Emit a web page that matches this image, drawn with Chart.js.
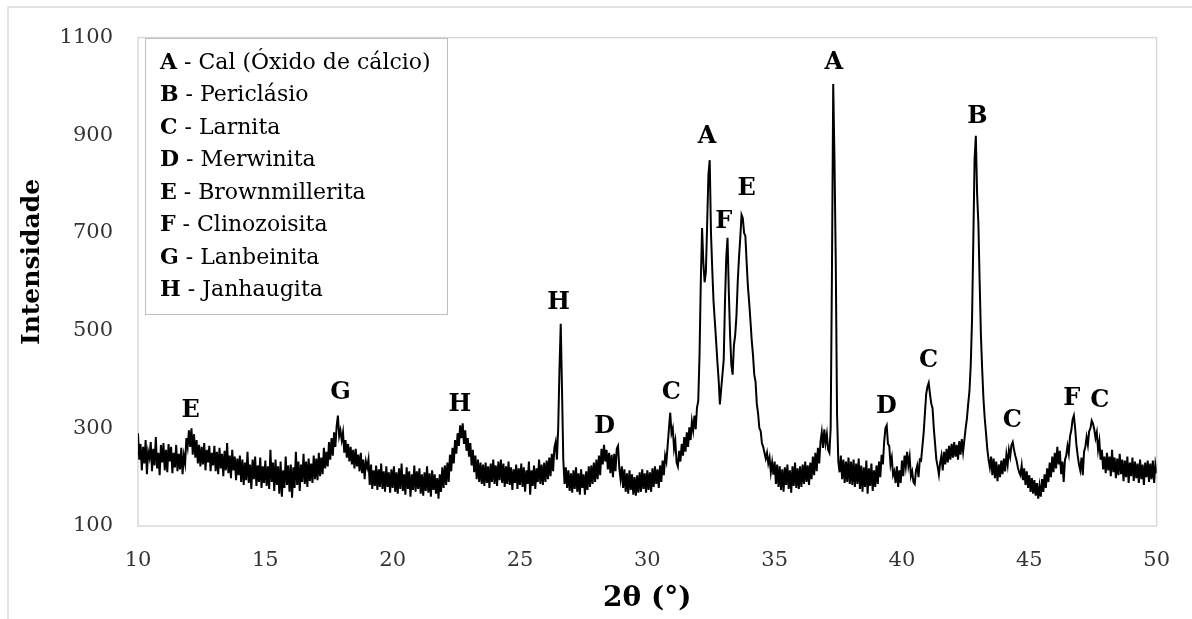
<!DOCTYPE html>
<html>
<head>
<meta charset="utf-8">
<script src="https://cdn.jsdelivr.net/npm/chart.js@4.4.1/dist/chart.umd.min.js"></script>
<style>
  html, body { margin: 0; padding: 0; background: #fff; }
</style>
</head>
<body>
<canvas id="xrdChart" width="1192" height="619"></canvas>
<script>
// 2theta grid: 10 to 50 degrees, one reading every 0.05 degree
const angleStart = 10;
const angleStep = 0.05;

// intensity, one row per degree (x.00 ... x.95)
const intensity = [
  290, 236, 268, 214, 262, 228, 276, 206, 252, 240, 272, 212, 258, 224, 282, 218, 250, 204, 266, 230, // 10
  270, 214, 256, 210, 268, 232, 262, 208, 250, 220, 266, 212, 248, 216, 260, 206, 244, 228, 280, 262, // 11
  296, 262, 300, 246, 288, 240, 276, 228, 266, 222, 262, 226, 270, 214, 256, 230, 264, 212, 250, 224, // 12
  264, 212, 252, 206, 260, 218, 248, 202, 254, 214, 270, 208, 244, 198, 256, 214, 242, 194, 238, 204, // 13
  244, 190, 236, 184, 230, 194, 252, 188, 226, 176, 236, 196, 242, 182, 224, 190, 240, 178, 222, 188, // 14
  234, 182, 222, 176, 256, 190, 230, 172, 236, 184, 222, 166, 232, 160, 214, 178, 242, 184, 224, 170, // 15
  226, 158, 220, 178, 252, 184, 232, 172, 226, 190, 248, 186, 232, 180, 238, 192, 228, 188, 244, 196, // 16
  238, 194, 250, 202, 240, 206, 260, 218, 252, 222, 272, 236, 280, 244, 292, 262, 304, 326, 284, 296, // 17
  276, 292, 250, 276, 240, 268, 232, 262, 226, 256, 218, 258, 222, 246, 212, 250, 208, 236, 196, 232, // 18
  220, 236, 184, 226, 176, 214, 182, 224, 174, 216, 180, 228, 176, 212, 170, 222, 180, 210, 168, 216, // 19
  178, 222, 170, 210, 166, 218, 176, 228, 172, 206, 164, 220, 176, 212, 160, 206, 174, 224, 170, 212, // 20
  176, 218, 166, 206, 162, 210, 172, 222, 168, 208, 160, 214, 174, 206, 166, 198, 156, 206, 170, 220, // 21
  178, 224, 184, 230, 190, 246, 212, 260, 228, 276, 248, 290, 264, 306, 280, 310, 268, 296, 254, 280, // 22
  242, 270, 224, 256, 210, 244, 196, 236, 190, 230, 186, 226, 182, 230, 188, 222, 178, 228, 190, 236, // 23
  186, 224, 182, 232, 194, 236, 188, 228, 180, 222, 186, 232, 184, 220, 174, 216, 188, 226, 176, 218, // 24
  184, 228, 180, 220, 170, 214, 186, 232, 164, 214, 182, 224, 176, 218, 190, 236, 186, 226, 184, 230, // 25
  190, 234, 196, 240, 202, 248, 212, 260, 272, 236, 300, 420, 514, 380, 236, 186, 220, 178, 214, 172, // 26
  208, 168, 214, 176, 220, 170, 208, 164, 216, 178, 206, 164, 212, 174, 222, 180, 224, 186, 230, 190, // 27
  236, 196, 244, 204, 258, 226, 266, 232, 256, 216, 250, 208, 246, 200, 248, 212, 258, 264, 218, 196, // 28
  222, 178, 216, 170, 208, 166, 214, 174, 206, 164, 200, 162, 204, 168, 210, 170, 216, 176, 208, 168, // 29
  214, 174, 210, 170, 218, 180, 222, 186, 216, 178, 224, 190, 234, 204, 244, 232, 266, 300, 332, 290, // 30
  300, 258, 274, 230, 222, 254, 232, 268, 244, 282, 252, 292, 262, 302, 276, 314, 296, 326, 298, 342, // 31
  356, 450, 600, 710, 640, 599, 620, 720, 820, 849, 700, 626, 560, 520, 480, 437, 400, 349, 380, 410, // 32
  440, 560, 650, 690, 580, 491, 430, 410, 470, 491, 530, 599, 650, 690, 737, 730, 700, 694, 640, 590, // 33
  558, 520, 480, 450, 410, 395, 350, 330, 300, 295, 270, 262, 250, 238, 250, 228, 240, 210, 230, 205, // 34
  232, 186, 226, 180, 222, 174, 216, 170, 220, 184, 226, 176, 214, 168, 222, 182, 230, 178, 218, 176, // 35
  222, 180, 226, 186, 232, 190, 224, 184, 230, 196, 242, 204, 250, 212, 260, 228, 272, 292, 260, 298, // 36
  270, 288, 256, 250, 300, 620, 1005, 850, 640, 330, 232, 210, 244, 196, 236, 188, 232, 190, 240, 186, // 37
  232, 184, 236, 180, 228, 186, 238, 176, 224, 170, 220, 180, 234, 166, 218, 182, 228, 172, 214, 180, // 38
  224, 186, 232, 200, 246, 226, 272, 300, 306, 268, 264, 226, 240, 204, 212, 188, 222, 180, 214, 188, // 39
  234, 202, 244, 222, 252, 224, 242, 202, 212, 190, 186, 214, 224, 200, 236, 234, 262, 290, 330, 370, // 40
  385, 393, 370, 350, 341, 300, 268, 236, 222, 205, 230, 244, 214, 252, 226, 258, 230, 264, 236, 268, // 41
  240, 272, 242, 266, 236, 274, 246, 278, 252, 276, 300, 320, 350, 376, 430, 520, 680, 850, 899, 780, // 42
  720, 600, 490, 420, 360, 320, 290, 258, 236, 220, 242, 204, 238, 198, 232, 192, 226, 200, 234, 206, // 43
  238, 212, 246, 226, 256, 242, 266, 272, 256, 244, 234, 220, 210, 204, 224, 194, 218, 184, 212, 178, // 44
  204, 170, 198, 166, 194, 162, 188, 156, 182, 160, 196, 170, 206, 178, 218, 190, 230, 200, 242, 210, // 45
  250, 218, 262, 226, 254, 206, 232, 190, 236, 244, 264, 248, 284, 296, 318, 326, 300, 266, 244, 226, // 46
  214, 240, 204, 252, 262, 282, 266, 294, 300, 316, 310, 298, 280, 292, 256, 274, 236, 256, 216, 242, // 47
  208, 250, 214, 242, 202, 256, 210, 240, 198, 238, 204, 248, 206, 236, 192, 234, 200, 242, 188, 230, // 48
  202, 240, 192, 232, 198, 228, 188, 236, 196, 226, 184, 230, 200, 234, 190, 228, 196, 234, 188, 226, // 49
  208                                                                                              // 50
];

// phase key shown in the box
const phaseLetters = ['A', 'B', 'C', 'D', 'E', 'F', 'G', 'H'];
const phaseNames = ['Cal (Óxido de cálcio)', 'Periclásio', 'Larnita', 'Merwinita',
  'Brownmillerita', 'Clinozoisita', 'Lanbeinita', 'Janhaugita'];

// peak markers: letter, 2theta, intensity where the letter sits
const peakLetters = ['E', 'G', 'H', 'H', 'D', 'C', 'A', 'F', 'E', 'A', 'D', 'C', 'B', 'C', 'F', 'C'];
const peakAngles = [12.07, 17.95, 22.64, 26.52, 28.32, 30.94, 32.35, 33.0, 33.9, 37.32, 39.39, 41.04, 42.96, 44.33, 46.67, 47.77];
const peakLevels = [335, 372, 349, 558, 303, 372, 897, 723, 790, 1049, 345, 439, 938, 315, 360, 356];

const points = intensity.map((v, i) => ({ x: +(angleStart + i * angleStep).toFixed(2), y: v }));

const serif = 'DejaVu Serif';

const annotate = {
  id: 'annotate',
  beforeDraw(chart) {
    const { ctx, chartArea: a } = chart;
    ctx.save();
    ctx.fillStyle = '#fff';
    ctx.fillRect(0, 0, chart.width, chart.height);
    ctx.strokeStyle = '#d9d9d9';
    ctx.lineWidth = 1.5;
    ctx.strokeRect(8, 7, chart.width + 20, chart.height + 20);
    ctx.strokeRect(a.left, a.top, a.right - a.left, a.bottom - a.top);
    ctx.restore();
  },
  afterDatasetsDraw(chart) {
    const { ctx, scales: { x, y } } = chart;
    ctx.save();
    // letters over the peaks
    ctx.fillStyle = '#000';
    ctx.font = 'bold 24px "' + serif + '"';
    ctx.textAlign = 'center';
    ctx.textBaseline = 'middle';
    peakLetters.forEach((t, i) => {
      ctx.fillText(t, x.getPixelForValue(peakAngles[i]), y.getPixelForValue(peakLevels[i]));
    });

    // y axis title, sits a little above the middle of the plot
    ctx.save();
    ctx.translate(32, 262);
    ctx.rotate(-Math.PI / 2);
    ctx.font = 'bold 25px "' + serif + '"';
    ctx.fillText('Intensidade', 0, 0);
    ctx.restore();

    // key box
    const bx = 145, by = 38, bw = 302, bh = 276;
    ctx.fillStyle = '#fff';
    ctx.fillRect(bx, by, bw, bh);
    ctx.strokeStyle = '#bfbfbf';
    ctx.lineWidth = 1;
    ctx.strokeRect(bx + 0.5, by + 0.5, bw, bh);
    ctx.textAlign = 'left';
    ctx.fillStyle = '#000';
    phaseLetters.forEach((t, i) => {
      const ty = 63 + i * 32.5;
      ctx.font = 'bold 22px "' + serif + '"';
      ctx.fillText(t, 160, ty);
      const w = ctx.measureText(t).width;
      ctx.font = '22px "' + serif + '"';
      ctx.fillText(' - ' + phaseNames[i], 160 + w, ty);
    });
    ctx.restore();
  }
};

new Chart(document.getElementById('xrdChart'), {
  type: 'line',
  data: {
    datasets: [{
      data: points,
      borderColor: '#000',
      borderWidth: 2,
      pointRadius: 0,
      tension: 0,
      fill: false
    }]
  },
  options: {
    responsive: false,
    animation: false,
    layout: { padding: { top: 33, right: 32, left: 0, bottom: 0 } },
    plugins: {
      legend: { display: false },
      tooltip: { enabled: false }
    },
    scales: {
      x: {
        type: 'linear',
        min: 10,
        max: 50,
        afterFit(scale) { scale.height = 93; },
        grid: { display: false, drawTicks: false },
        border: { display: false },
        ticks: {
          stepSize: 5,
          padding: 22,
          color: '#333',
          font: { family: serif, size: 21 },
          callback: (v) => String(v)
        },
        title: {
          display: true,
          text: '2θ (°)',
          color: '#000',
          padding: { top: 0, bottom: 3 },
          font: { family: serif, size: 28, weight: 'bold' }
        }
      },
      y: {
        min: 100,
        max: 1100,
        afterFit(scale) { scale.width = 138; },
        grid: { display: false, drawTicks: false },
        border: { display: false },
        ticks: {
          stepSize: 200,
          padding: 25,
          color: '#333',
          font: { family: serif, size: 21 },
          callback: (v) => String(v)
        }
      }
    }
  },
  plugins: [annotate]
});
</script>
</body>
</html>
